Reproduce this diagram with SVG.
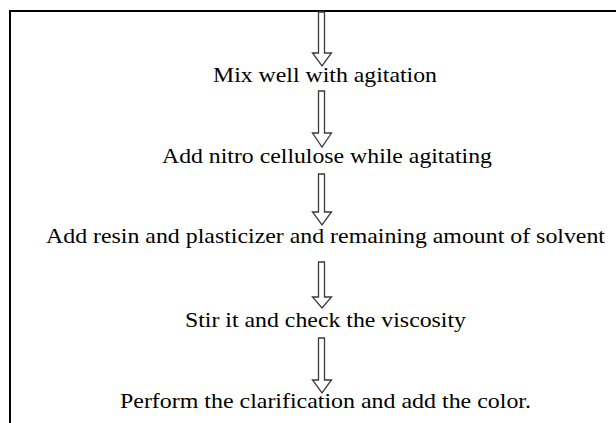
<svg xmlns="http://www.w3.org/2000/svg" width="616" height="423" viewBox="0 0 616 423">
<style>
.frame{stroke:#000;stroke-width:2;fill:none}
.arrow{fill:#fff;stroke:#3a3a3a;stroke-width:1.3;stroke-linejoin:miter}
.lbl{font-family:"Liberation Serif","Times New Roman",serif;font-size:22px;fill:#000;text-anchor:middle}
</style>
<rect width="616" height="423" fill="#fff"/>
<g id="frame">
<line class="frame" x1="9" y1="11" x2="616" y2="11"/>
<line class="frame" x1="10" y1="10" x2="10" y2="423"/>
</g>
<g id="connectors">
<path class="arrow" d="M318.5 12 H324.5 V53 H331.5 L322 66 L312.5 53 H318.5 Z"/>
<path class="arrow" d="M318.5 91 H324.5 V133 H331.5 L322 147 L312.5 133 H318.5 Z"/>
<path class="arrow" d="M318.5 174 H324.5 V212 H331.5 L322 225 L312.5 212 H318.5 Z"/>
<path class="arrow" d="M318.5 262 H324.5 V297 H331.5 L322 308 L312.5 297 H318.5 Z"/>
<path class="arrow" d="M318.5 338 H324.5 V380 H331.5 L322 393 L312.5 380 H318.5 Z"/>
</g>
<g id="step1"><text class="lbl" x="325" y="82" textLength="224" lengthAdjust="spacingAndGlyphs">Mix well with agitation</text></g>
<g id="step2"><text class="lbl" x="327" y="163" textLength="330" lengthAdjust="spacingAndGlyphs">Add nitro cellulose while agitating</text></g>
<g id="step3"><text class="lbl" x="325.5" y="243" textLength="559" lengthAdjust="spacingAndGlyphs">Add resin and plasticizer and remaining amount of solvent</text></g>
<g id="step4"><text class="lbl" x="325.5" y="327" textLength="281" lengthAdjust="spacingAndGlyphs">Stir it and check the viscosity</text></g>
<g id="step5"><text class="lbl" x="325.5" y="408" textLength="411" lengthAdjust="spacingAndGlyphs">Perform the clarification and add the color.</text></g>
</svg>
